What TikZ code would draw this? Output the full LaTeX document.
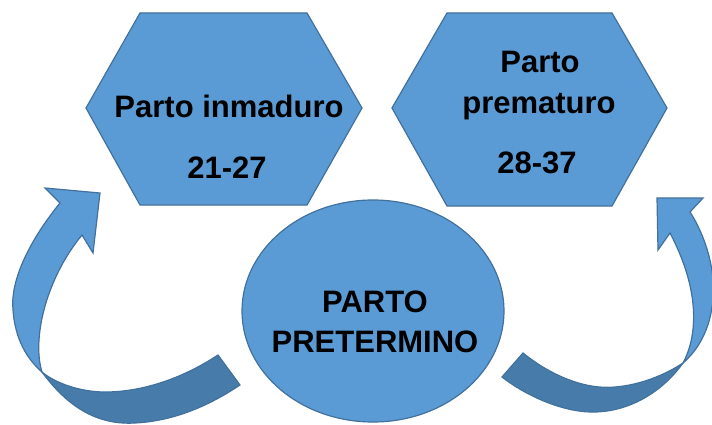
\documentclass[tikz,border=0pt]{standalone}
\usepackage{fontspec}
\setmainfont{Liberation Sans}
\usetikzlibrary{shapes.geometric}
\definecolor{fillblue}{HTML}{5B9BD5}
\definecolor{edgeblue}{HTML}{41719C}
\definecolor{darkblue}{HTML}{477CAA}
\tikzset{
  shapebox/.style={fill=fillblue, draw=edgeblue, line width=1.2pt, line join=miter},
  darkband/.style={fill=darkblue, draw=edgeblue, line width=1.2pt},
  lbl/.style={font=\fontsize{31}{31}\selectfont\bfseries, anchor=base, inner sep=0pt}
}
\begin{document}
\begin{tikzpicture}[x=1pt,y=-1pt]
\path[use as bounding box] (0,0) rectangle (712,425);
% hexagons
\draw[shapebox] (140,13) -- (307,13) -- (362,108) -- (307,205) -- (140,205) -- (86,108) -- cycle;
\draw[shapebox] (447,13) -- (612,13) -- (667,108) -- (612,206) -- (447,206) -- (392,108) -- cycle;
% ellipse
\node[shapebox, ellipse, minimum width=262pt, minimum height=222pt, inner sep=0pt] (pt) at (373,311) {};
% left curved arrow
\draw[shapebox] (100,193) -- (45,188) -- (60,203) .. controls (30,240) and (10,280) .. (13,310) .. controls (15,340) and (28,360) .. (42,372) .. controls (32,340) and (45,280) .. (82,235) -- (93,253) -- cycle;
\draw[darkband] (42,372) .. controls (70,410) and (100,425) .. (135,423) .. controls (175,421) and (210,405) .. (240,385) -- (218,355) .. controls (180,380) and (140,392) .. (105,392) .. controls (80,392) and (55,383) .. (42,372) -- cycle;
% right curved arrow
\draw[shapebox] (657,198) -- (703,198) -- (690,212) .. controls (705,235) and (716,270) .. (713,300) .. controls (710,330) and (698,350) .. (683,363) .. controls (698,335) and (700,290) .. (670,233) -- (658,250) -- cycle;
\draw[darkband] (683,363) .. controls (660,395) and (625,413) .. (590,412) .. controls (560,411) and (525,395) .. (502,377) -- (523,353) .. controls (550,375) and (585,390) .. (615,387) .. controls (640,385) and (665,375) .. (683,363) -- cycle;
% texts
\node[lbl] (t1) at (229,118) {Parto inmaduro};
\node[lbl] (t2) at (227,178) {21-27};
\node[lbl] (t3) at (540,73) {Parto};
\node[lbl] (t4) at (539,114) {prematuro};
\node[lbl] (t5) at (537,173) {28-37};
\node[lbl] (t6) at (375,312) {PARTO};
\node[lbl] (t7) at (375,352) {PRETERMINO};
\end{tikzpicture}
\end{document}
